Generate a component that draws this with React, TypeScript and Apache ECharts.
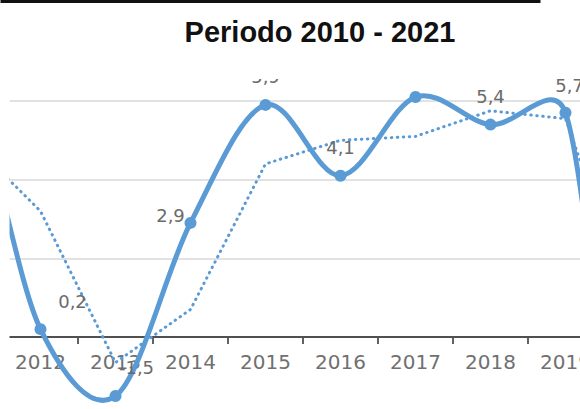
import React, { useEffect, useRef } from "react";
import * as echarts from "echarts";

const years = ["2010", "2011", "2012", "2013", "2014", "2015", "2016", "2017", "2018", "2019", "2020", "2021"];
const growth = [3.8, 6.3, 0.2, -1.5, 2.9, 5.9, 4.1, 6.1, 5.4, 5.7, -5.5, 10.5];
const movingAvg = [null, 5.1, 3.2, -0.65, 0.7, 4.4, 5.0, 5.1, 5.75, 5.55, 0.1, 2.5];
const yTicks = { min: 0, max: 8, interval: 2 };
const titleText = "Periodo 2010 - 2021";

// per-point label offsets (Excel labels moved by hand)
const labelOffsets: Record<string, number[]> = {
  "2012": [32, 0],
  "2013": [21, -1],
  "2014": [-20, 21],
  "2019": [4, 1],
};

const BLUE = "#5B9BD5";
// the original picture is a crop of a wider chart: the chart is laid out wider and shifted left
const OX = 147.5;
const CHART_W = 900;
const CHART_H = 409;

// Excel-like smoothed line: Catmull-Rom tangents (1/6), limited to half the adjacent segment
function controlPoints(p0: number[], p1: number[], p2: number[]) {
  const vx = p2[0] - p0[0];
  const vy = p2[1] - p0[1];
  const vl = Math.hypot(vx, vy) || 1;
  const d0 = Math.hypot(p1[0] - p0[0], p1[1] - p0[1]);
  const d1 = Math.hypot(p2[0] - p1[0], p2[1] - p1[1]);
  const l0 = Math.min(vl / 6, d0 / 2);
  const l1 = Math.min(vl / 6, d1 / 2);
  return {
    inCp: [p1[0] - (vx / vl) * l0, p1[1] - (vy / vl) * l0],
    outCp: [p1[0] + (vx / vl) * l1, p1[1] + (vy / vl) * l1],
  };
}

export default function App() {
  const ref = useRef<HTMLDivElement>(null);
  useEffect(() => {
    if (!ref.current) return;
    const chart = echarts.init(ref.current, undefined, { renderer: "svg" });
    const solidData = growth.map((v, i) => ({
      value: v,
      label: {
        show: true,
        offset: labelOffsets[years[i]] || [0, 0],
      },
    }));
    const n = growth.length;
    const renderSegment = (params: any, api: any) => {
      const i = params.dataIndex;
      if (i >= n - 1) return null;
      const pt = (k: number) => api.coord([Math.max(0, Math.min(n - 1, k)), growth[Math.max(0, Math.min(n - 1, k))]]);
      const a = pt(i);
      const b = pt(i + 1);
      const prev = i > 0 ? pt(i - 1) : a;
      const next = i + 2 < n ? pt(i + 2) : b;
      const ca = controlPoints(prev, a, b).outCp;
      const cb = controlPoints(a, b, next).inCp;
      return {
        type: "bezierCurve",
        shape: { x1: a[0], y1: a[1], x2: b[0], y2: b[1], cpx1: ca[0], cpy1: ca[1], cpx2: cb[0], cpy2: cb[1] },
        style: { stroke: BLUE, lineWidth: 5, fill: null, lineCap: "round" },
      };
    };
    chart.setOption({
      animation: false,
      backgroundColor: "#ffffff",
      grid: { left: 0, right: 0, top: 22.3, bottom: 72, containLabel: false, outerBoundsMode: "none" },
      xAxis: {
        type: "category",
        data: years,
        boundaryGap: true,
        axisLine: { show: true, onZero: false, lineStyle: { color: "#505050", width: 1.8 } },
        axisTick: { show: true, interval: 0, length: 7, inside: false, lineStyle: { color: "#505050", width: 1.8 } },
        axisLabel: {
          interval: 0,
          margin: 15,
          color: "#707070",
          fontFamily: "DejaVu Sans",
          fontSize: 20,
        },
        splitLine: { show: false },
      },
      yAxis: {
        type: "value",
        min: yTicks.min,
        max: yTicks.max,
        interval: yTicks.interval,
        axisLabel: { show: false },
        axisLine: { show: false },
        axisTick: { show: false },
        splitLine: { show: true, lineStyle: { color: "#d9d9d9", width: 1.5 } },
      },
      series: [
        {
          name: "Media móvil",
          type: "line",
          data: movingAvg,
          smooth: false,
          showSymbol: false,
          symbol: "none",
          clip: false,
          connectNulls: false,
          lineStyle: { color: BLUE, width: 3, type: [0.5, 5.5], cap: "round" },
          z: 2,
        },
        {
          name: "Crecimiento (curva)",
          type: "custom",
          data: growth.map((v, i) => [i, v]),
          encode: { x: 0, y: 1 },
          clip: false,
          renderItem: renderSegment,
          z: 3,
        },
        {
          name: "Crecimiento",
          type: "line",
          data: solidData,
          clip: false,
          symbol: "circle",
          symbolSize: 12,
          itemStyle: { color: BLUE },
          lineStyle: { color: BLUE, width: 0, opacity: 0 },
          label: {
            show: true,
            position: "top",
            distance: 13,
            color: "#6b6b6b",
            fontFamily: "DejaVu Sans",
            fontSize: 18,
            formatter: (p: any) => Number(p.value).toFixed(1).replace(".", ","),
          },
          z: 4,
        },
      ],
      graphic: [
        { type: "rect", z: 100, shape: { x: OX, y: 0, width: 580, height: 79 }, style: { fill: "#ffffff" } },
        { type: "rect", z: 100, shape: { x: 0, y: 0, width: OX + 9, height: CHART_H }, style: { fill: "#ffffff" } },
        { type: "rect", z: 101, shape: { x: OX, y: 0, width: 540, height: 3 }, style: { fill: "#111111" } },
        {
          type: "text",
          z: 101,
          x: OX + 319.5,
          y: 32,
          style: {
            text: titleText,
            fill: "#111111",
            font: "bold 29px 'Liberation Sans'",
            textAlign: "center",
            textVerticalAlign: "middle",
          },
        },
      ],
    });
    return () => chart.dispose();
  }, []);
  return (
    <div
      style={{ position: "fixed", left: 0, top: 0, width: 580, height: 409, overflow: "hidden", background: "#fff" }}
    >
      <div
        ref={ref}
        style={{ position: "absolute", left: -OX, top: 0, width: CHART_W, height: CHART_H }}
      />
    </div>
  );
}
